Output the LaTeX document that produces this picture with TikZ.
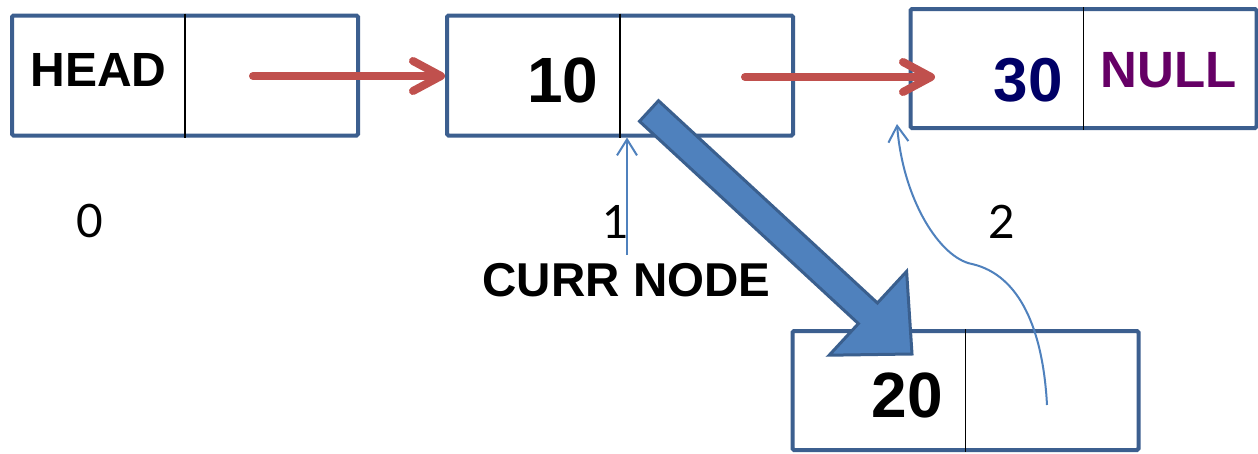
\documentclass[tikz,border=0pt]{standalone}
\usepackage{fontspec}
\setmainfont{Liberation Sans}
\newfontfamily\idxf{Lato}
\usetikzlibrary{arrows.meta}
\definecolor{boxblue}{HTML}{3C5F8F}
\definecolor{redarr}{HTML}{C0504D}
\definecolor{lightblue}{HTML}{4F81BD}
\definecolor{blockedge}{HTML}{3A5F8E}
\definecolor{navytxt}{HTML}{000066}
\definecolor{purpletxt}{HTML}{660066}
\begin{document}
\begin{tikzpicture}[x=1pt,y=-1pt,
  cell/.style={draw=boxblue, line width=4pt, rounded corners=1.5pt, minimum width=346pt, minimum height=120pt, inner sep=0pt, fill=white},
  divider/.style={draw=black, line width=1.8pt},
  bigtxt/.style={font=\bfseries\fontsize{64}{64}\selectfont, inner sep=0pt},
  labtxt/.style={font=\bfseries\fontsize{48}{48}\selectfont, inner sep=0pt},
  idxtxt/.style={font=\idxf\fontsize{46}{46}\selectfont, inner sep=0pt},
  redarrow/.style={draw=redarr, line width=8pt, line cap=round, -{Straight Barb[length=28pt,width=30pt,round]}},
  thinarrow/.style={draw=lightblue, line width=2pt, -{Straight Barb[length=16pt,width=20pt]}},
  blockarrow/.style={fill=lightblue, draw=blockedge, line width=3pt, line join=miter}
]
\useasboundingbox (0,0) rectangle (1258,453);
\fill[white] (0,0) rectangle (1258,453);

% boxes
\node[cell] (b0) at (185,75.5) {};
\node[cell] (b1) at (620,75.5) {};
\node[cell, minimum height=119pt] (b2) at (1083.5,68.5) {};
\node[cell, minimum height=119pt] (b3) at (965.5,390.5) {};
\draw[divider] (b0.north) -- (b0.south);
\draw[divider] (b1.north) -- (b1.south);
\draw[divider] (b2.north) -- (b2.south);
\draw[divider] (b3.north) -- (b3.south);

% texts
\node[labtxt] (thead) at (98.5,70) {HEAD};
\node[bigtxt] (t10) at (563,80) {10};
\node[bigtxt, text=navytxt, font=\bfseries\fontsize{62}{62}\selectfont] (t30) at (1028,80) {30};
\node[labtxt, text=purpletxt, font=\bfseries\fontsize{51}{51}\selectfont] (tnull) at (1168.5,70) {NULL};
\node[bigtxt] (t20) at (907.5,395) {20};
\node[labtxt, font=\bfseries\fontsize{47.5}{47.5}\selectfont] (tcurr) at (626.5,280) {CURR NODE};
\node[idxtxt] (i0) at (89.5,221.5) {0};
\node[idxtxt] (i1) at (616,221.5) {1};
\node[idxtxt] (i2) at (1002,221.5) {2};

% block arrow from node 10 to node 20
\draw[blockarrow] (639.5,121.3) -- (658.5,100.7) -- (877.4,303.0) -- (906.6,271.4)
  -- (912,354) -- (829.2,355.2) -- (858.4,323.6) -- cycle;

% red arrows
\coordinate (r1s) at (253,76);
\coordinate (r2s) at (745,77);
\coordinate (r2e) at ([xshift=26.5pt]b2.west |- r2s);
\draw[redarrow] (r1s) -- (b1.west |- r1s);
\draw[redarrow] (r2s) -- (r2e);

% thin arrow from CURR NODE label up to node 10
\coordinate (cn) at (627,255);
\draw[thinarrow] (cn) -- (cn |- b1.south);

% curved arrow from node 20 pointer to node 30
\coordinate (c0) at (1047,405);
\coordinate (c1) at (897,124);
\draw[thinarrow] (c0) .. controls (1043,330) and (1020,275) .. (972,264)
  .. controls (940,258) and (903,200) .. (c1);
\end{tikzpicture}
\end{document}
